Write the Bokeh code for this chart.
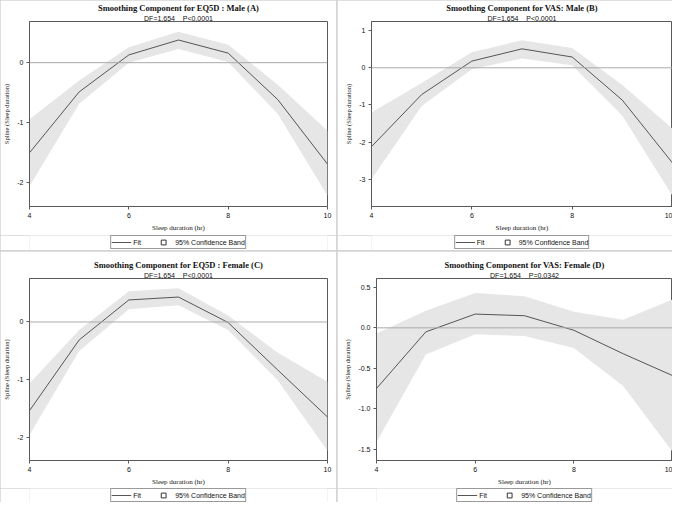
from bokeh.plotting import figure
from bokeh.models import (Span, Title, Legend, LegendItem, FixedTicker,
                          NumeralTickFormatter, Range1d, GridBox)
from bokeh.layouts import column
from bokeh.embed import file_html
from bokeh.resources import INLINE

# ---------------- data ----------------
sleep_hours = [4, 5, 6, 7, 8, 9, 10]
x_ticks = [4, 6, 8, 10]

eq5d_male_fit = [-1.51, -0.49, 0.13, 0.38, 0.16, -0.62, -1.70]
eq5d_male_upper = [-0.95, -0.30, 0.26, 0.52, 0.30, -0.37, -1.14]
eq5d_male_lower = [-2.07, -0.69, 0.00, 0.23, 0.01, -0.86, -2.23]

vas_male_fit = [-2.12, -0.72, 0.18, 0.51, 0.29, -0.87, -2.56]
vas_male_upper = [-1.20, -0.41, 0.42, 0.74, 0.53, -0.46, -1.64]
vas_male_lower = [-3.00, -1.03, -0.04, 0.25, 0.07, -1.29, -3.44]

eq5d_female_fit = [-1.53, -0.31, 0.38, 0.43, -0.01, -0.83, -1.64]
eq5d_female_upper = [-1.06, -0.14, 0.53, 0.58, 0.11, -0.53, -1.03]
eq5d_female_lower = [-1.95, -0.50, 0.22, 0.29, -0.14, -1.01, -2.22]

vas_female_fit = [-0.75, -0.05, 0.17, 0.15, -0.03, -0.32, -0.59]
vas_female_upper = [-0.07, 0.21, 0.43, 0.39, 0.20, 0.10, 0.35]
vas_female_lower = [-1.41, -0.33, -0.08, -0.10, -0.25, -0.72, -1.53]

titles = ["Smoothing Component for EQ5D : Male (A)",
          "Smoothing Component for VAS: Male (B)",
          "Smoothing Component for EQ5D : Female (C)",
          "Smoothing Component for VAS: Female (D)"]
GAP = "\u00a0\u00a0\u00a0\u00a0"
subtitles = ["DF=1,654" + GAP + "P<0,0001",
             "DF=1,654" + GAP + "P<0,0001",
             "DF=1,654" + GAP + "P<0,0001",
             "DF=1,654" + GAP + "P=0,0342"]

y_ticks_a = [-2, -1, 0]
y_ticks_b = [-3, -2, -1, 0, 1]
y_ticks_c = [-2, -1, 0]
y_ticks_d = [-1.5, -1.0, -0.5, 0.0, 0.5]

x_label = "Sleep duration (hr)"
y_label = "Spline (Sleep duration)"
legend_labels = ["Fit", "95% Confidence Band"]

BAND = "#e6e6e6"
LINE = "#555555"
FRAME = "#5a5a5a"
TEXT = "#111111"
NAN = float("nan")


def make_panel(title, subtitle, fit, upper, lower, y_lim, y_ticks, fmt,
               width, height, legend_h, left, right, top, bottom):
    p = figure(width=width, height=height - legend_h, title=None,
               x_range=Range1d(4, 10), y_range=Range1d(*y_lim),
               output_backend="svg", toolbar_location=None,
               min_border_left=left, min_border_right=right,
               min_border_top=top, min_border_bottom=bottom,
               background_fill_color="white", border_fill_color="white")
    p.grid.visible = False
    p.outline_line_color = FRAME
    p.outline_line_width = 1

    p.varea(x=sleep_hours, y1=lower, y2=upper, fill_color=BAND)
    p.add_layout(Span(location=0, dimension="width", line_color="#aaaaaa",
                      line_width=1))
    p.line(x=sleep_hours, y=fit, line_color=LINE, line_width=1)

    for ax in (p.xaxis[0], p.yaxis[0]):
        ax.axis_line_color = FRAME
        ax.major_tick_line_color = FRAME
        ax.major_tick_out = 3
        ax.major_tick_in = 0
        ax.minor_tick_line_color = None
        ax.major_label_text_font = "Liberation Sans"
        ax.major_label_text_font_size = "7px"
        ax.major_label_text_color = TEXT
        ax.axis_label_text_font = "Liberation Serif"
        ax.axis_label_text_font_style = "normal"
        ax.axis_label_text_color = TEXT
        ax.major_label_standoff = 3

    p.xaxis.ticker = FixedTicker(ticks=x_ticks)
    p.xaxis.formatter = NumeralTickFormatter(format="0")
    p.xaxis.axis_label = x_label
    p.xaxis.axis_label_text_font_size = "7px"
    p.xaxis.axis_label_standoff = 3

    p.yaxis.ticker = FixedTicker(ticks=y_ticks)
    p.yaxis.formatter = NumeralTickFormatter(format=fmt)
    p.yaxis.major_label_orientation = "horizontal"
    p.yaxis.axis_label = y_label
    p.yaxis.axis_label_text_font_size = "6.5px"
    p.yaxis.axis_label_standoff = 4

    p.add_layout(Title(text=subtitle, align="center",
                       text_font="Liberation Sans", text_font_size="7px",
                       text_font_style="normal", text_color=TEXT,
                       standoff=0), "above")
    p.add_layout(Title(text=title, align="center",
                       text_font="Liberation Serif", text_font_size="8.5px",
                       text_font_style="bold", text_color=TEXT,
                       standoff=0), "above")

    # legend strip below the panel (frame aligned with the plot frame)
    lf = figure(width=width, height=legend_h, title=None,
                x_range=Range1d(0, 1), y_range=Range1d(0, 1),
                output_backend="svg", toolbar_location=None,
                x_axis_location=None, y_axis_location=None,
                min_border_left=left, min_border_right=right,
                min_border_top=0, min_border_bottom=0,
                outline_line_color=None,
                background_fill_color="white", border_fill_color="white")
    lf.grid.visible = False
    fit_key = lf.line(x=[NAN], y=[NAN], line_color=LINE, line_width=1)
    band_key = lf.scatter(x=[NAN], y=[NAN], marker="square",
                          fill_color="white", line_color="#333333",
                          line_width=1)
    legend = Legend(items=[LegendItem(label=legend_labels[0], renderers=[fit_key]),
                           LegendItem(label=legend_labels[1], renderers=[band_key])],
                    orientation="horizontal", location="top",
                    margin=0, padding=0, spacing=0,
                    glyph_width=20, glyph_height=12, label_height=10,
                    label_standoff=2,
                    label_text_font="Liberation Sans",
                    label_text_font_size="7px", label_text_color=TEXT,
                    border_line_color="#333333", border_line_width=1,
                    background_fill_color="white")
    lf.add_layout(legend, "center")
    return column(p, lf, spacing=0)


pa = make_panel(titles[0], subtitles[0], eq5d_male_fit, eq5d_male_upper,
                eq5d_male_lower, (-2.41, 0.69), y_ticks_a, "0",
                336, 250, 15, 25, 9, 0, 29)
pb = make_panel(titles[1], subtitles[1], vas_male_fit, vas_male_upper,
                vas_male_lower, (-3.73, 1.245), y_ticks_b, "0",
                335, 250, 15, 34, 0, 0, 29)
pc = make_panel(titles[2], subtitles[2], eq5d_female_fit, eq5d_female_upper,
                eq5d_female_lower, (-2.39, 0.75), y_ticks_c, "0",
                336, 251, 14, 25, 9, 27, 28)
pd_ = make_panel(titles[3], subtitles[3], vas_female_fit, vas_female_upper,
                 vas_female_lower, (-1.64, 0.61), y_ticks_d, "0.0",
                 335, 251, 14, 39, 0, 27, 28)

grid = GridBox(children=[(pa, 0, 0), (pb, 0, 1), (pc, 1, 0), (pd_, 1, 1)],
               spacing=1, styles={"background-color": "#d4d4d4"})

open("out.html", "w").write(file_html(grid, INLINE))
